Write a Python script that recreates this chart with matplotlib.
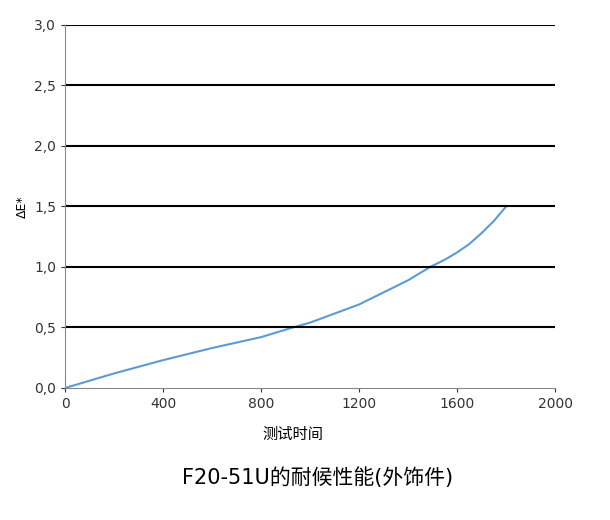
import matplotlib.pyplot as plt
import numpy as np

# 读图估计的数据
tempo = [0, 200, 400, 600, 800, 930, 1000, 1200, 1400, 1490, 1550, 1600, 1650, 1700, 1750, 1800]
delta_e = [0.0, 0.12, 0.23, 0.33, 0.42, 0.50, 0.54, 0.69, 0.89, 1.0, 1.06, 1.12, 1.19, 1.28, 1.38, 1.50]
yticks = [0.0, 0.5, 1.0, 1.5, 2.0, 2.5, 3.0]
xticks = [0, 400, 800, 1200, 1600, 2000]

plt.rcParams["font.family"] = ["DejaVu Sans", "Noto Sans CJK SC"]
fig = plt.figure(figsize=(6.1, 5.2), dpi=100)
ax = fig.add_axes([0.107, 0.254, 0.803, 0.698])

ax.plot(tempo, delta_e, color="#5b9bd5", lw=1.5)
for y in yticks[1:]:
    ax.axhline(y, color="black", lw=1.5)

ax.set_xlim(0, 2000)
ax.set_ylim(0, 3.0)
ax.set_xticks(xticks)
ax.set_yticks(yticks)
ax.set_yticklabels([f"{v:.1f}".replace(".", ",") for v in yticks])
ax.tick_params(labelsize=10, colors="#333333", length=3)
for s in ["top", "right"]:
    ax.spines[s].set_visible(False)
ax.spines["left"].set_color("#888888")
ax.spines["bottom"].set_color("#888888")
ax.set_ylabel("ΔE*", fontsize=9)

fig.text(0.48, 0.155, "测试时间", ha="center", fontsize=11)
fig.text(0.52, 0.07, "F20-51U的耐候性能(外饰件)", ha="center", fontsize=15)

fig.savefig("out.png")
